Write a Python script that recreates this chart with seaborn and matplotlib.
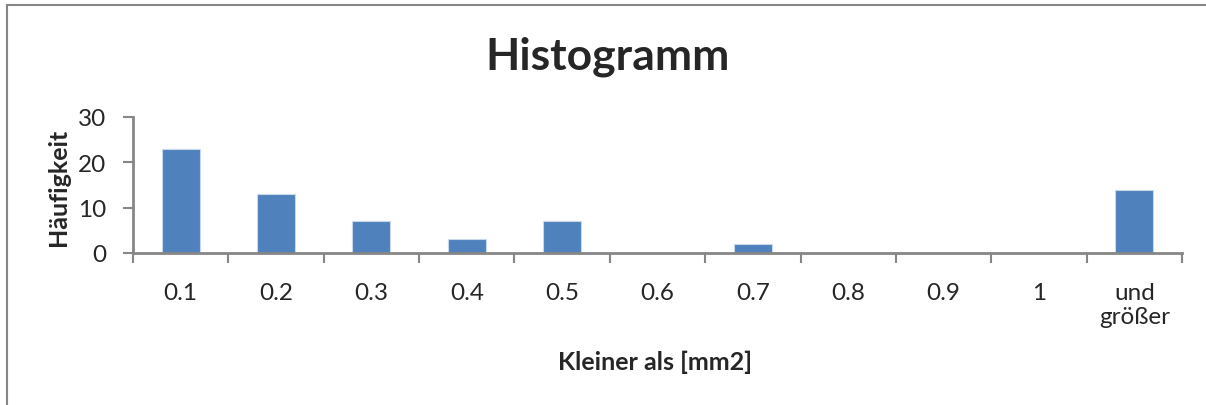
import matplotlib
matplotlib.use("Agg")
import matplotlib.pyplot as plt
import seaborn as sns
import pandas as pd
from matplotlib.lines import Line2D

categories = ["0.1", "0.2", "0.3", "0.4", "0.5", "0.6", "0.7", "0.8", "0.9", "1", "und\ngrößer"]
counts = [23, 13, 7, 3, 7, 0, 2, 0, 0, 0, 14]
yticks = [0, 10, 20, 30]

sns.set_theme(style="white")
plt.rcParams["font.family"] = ["Lato", "DejaVu Sans"]

W, H = 1206, 406
fig = plt.figure(figsize=(W / 100, H / 100), dpi=100)
ax = fig.add_axes([133 / W, 1 - 254 / H, (1182 - 133) / W, (254 - 118) / H])

df = pd.DataFrame({"cat": categories, "n": counts})
sns.barplot(data=df, x="cat", y="n", order=categories, color="#4F81BD",
            saturation=1, width=0.4, edgecolor="#C9D7EA", linewidth=0.8, ax=ax)

n = len(categories)
ax.set_xlim(-0.5, n - 0.5)
ax.set_ylim(0, 30)
ax.set_yticks(yticks)
ax.set_yticklabels([str(v) for v in yticks], fontsize=17.5)

ax.set_xticks([i - 0.5 for i in range(n + 1)])
ax.set_xticklabels([])
ax.set_xticks(list(range(n)), minor=True)
ax.set_xticklabels(categories, minor=True, fontsize=17.5, linespacing=1.15, va="top")

grey = "#868686"
ax.tick_params(axis="x", which="major", direction="out", length=7, width=1.5, color=grey, bottom=True)
ax.tick_params(axis="x", which="minor", length=0, pad=21, bottom=True)
ax.tick_params(axis="y", which="major", direction="out", length=7, width=1.5, color=grey, left=True, pad=12)

for s in ["top", "right"]:
    ax.spines[s].set_visible(False)
for s in ["left", "bottom"]:
    ax.spines[s].set_color(grey)
    ax.spines[s].set_linewidth(2)

ax.set_xlabel("")
ax.set_ylabel("")
fig.text(58 / W, 1 - 187 / H, "Häufigkeit", rotation=90, ha="center", va="center",
         fontsize=18, fontweight="bold")
fig.text(655 / W, 1 - 362 / H, "Kleiner als [mm2]", ha="center", va="center",
         fontsize=18, fontweight="bold")
fig.text(608 / W, 1 - 57 / H, "Histogramm", ha="center", va="center",
         fontsize=32, fontweight="bold")

# chart frame
fig.add_artist(Line2D([7 / W, 7 / W], [0, 1 - 6 / H], transform=fig.transFigure, color=grey, lw=1.5))
fig.add_artist(Line2D([7 / W, 1], [1 - 6 / H, 1 - 6 / H], transform=fig.transFigure, color=grey, lw=1.5))

fig.savefig("out.png", dpi=100, facecolor="white")
